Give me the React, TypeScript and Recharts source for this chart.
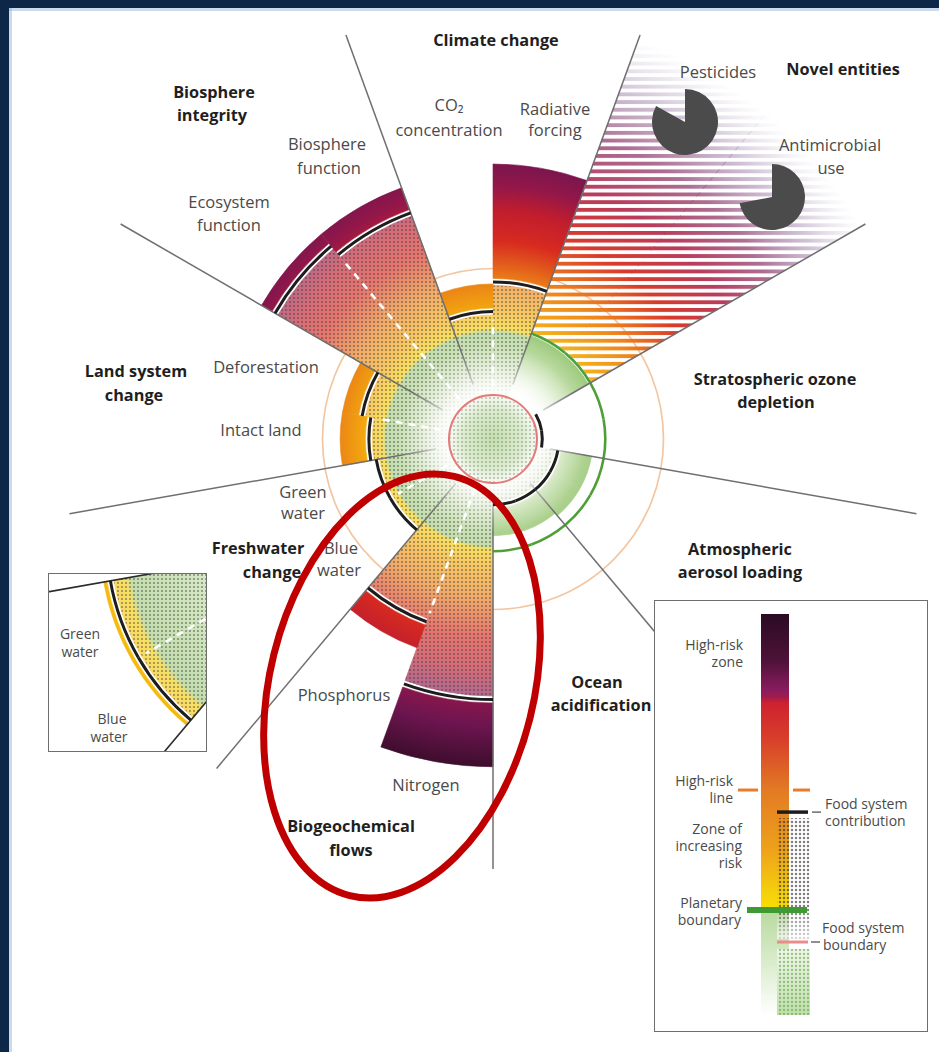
import React from 'react';
import {
  RadialBarChart, RadialBar, PolarAngleAxis, PolarRadiusAxis, PolarGrid, Sector,
  PieChart, Pie, Cell, BarChart, Bar, XAxis, YAxis, ReferenceLine,
} from 'recharts';

// 18 slices of 20deg, counter-clockwise from 350deg (east, slightly below)
const groups = [
  'Stratospheric ozone depletion', 'Stratospheric ozone depletion',
  'Novel entities', 'Novel entities',
  'Climate change', 'Climate change',
  'Biosphere integrity', 'Biosphere integrity',
  'Land system change', 'Land system change',
  'Freshwater change', 'Freshwater change',
  'Biogeochemical flows', 'Biogeochemical flows',
  'Ocean acidification', 'Ocean acidification',
  'Atmospheric aerosol loading', 'Atmospheric aerosol loading',
];
const indicators = [
  '', '', 'Antimicrobial use', 'Pesticides', 'Radiative forcing', 'CO2 concentration',
  'Biosphere function', 'Ecosystem function', 'Deforestation', 'Intact land',
  'Green water', 'Blue water', 'Phosphorus', 'Nitrogen', '', '', '', '',
];
// radial position, 1 = planetary boundary
const foodContribution = [0.43, 0.43, null, null, 1.41, 1.14, 2.17, 2.27, 1.19, 1.11, 1.06, 1.06, 1.75, 2.35, 0.58, 0.58, 0.58, 0.58];
const totalPressure = [0.45, 0.45, null, null, 2.5, 1.41, 2.43, 2.43, 1.39, 1.39, 1.1, 1.1, 2.02, 2.98, 0.88, 0.88, 0.91, 0.91];
const unquantifiedReach = 4.2; // novel entities: no control variable, open-ended

const FOOD_BOUNDARY = 0.4;
const PLANETARY_BOUNDARY = 1;
const HIGH_RISK = 1.55;
const GLOW_REACH = 0.85;

const pieLabels = ['Pesticides', 'Antimicrobial use'];
const pieShares = [0.83, 0.72];

// legend column, arbitrary units from bottom (0) to top (10)
const legendTop = 10;
const legendFoodTop = 4.91;
const legendHighRisk = 5.61;
const legendContribution = 5.06;
const legendBoundary = 2.62;
const legendFoodBoundary = 1.82;

const W = 939;
const H = 1052;
const CX = 493;
const CY = 439;
const UNIT = 110;
const R_MAX = 4.4;
const START = -10;
const FONT = "'Open Sans', 'DejaVu Sans', sans-serif";

const COLOR_SCALE: [number, string][] = [
  [0, '#e4efda'], [0.55, '#c7e0ae'], [0.97, '#a2cc83'], [1.0, '#f5cf0c'], [1.18, '#f2a70f'],
  [1.45, '#ea7e18'], [1.8, '#d72a20'], [2.08, '#c01d2e'], [2.3, '#931749'], [2.6, '#6e1550'],
  [3.0, '#3b0d2b'], [4.4, '#2a0a20'],
];

const rows = groups.map((group, i) => {
  const split = i > 0 && groups[i - 1] === group && indicators[i] !== '';
  return {
    key: `${group}:${indicators[i] || i}`,
    group,
    indicator: indicators[i],
    food: foodContribution[i],
    total: totalPressure[i],
    open: group === 'Novel entities',
    dashTo: split ? Math.min(foodContribution[i - 1] ?? 0, foodContribution[i] ?? 0) : null,
  };
});
const insetRows = rows.map((r) => (r.group === 'Freshwater change' ? r : { ...r, food: null, total: null, open: false }));

const STEP = 360 / rows.length;
// the category angle axis places each bar one band before its tick, so the axis starts one band later
const AXIS_START = START + STEP;
const dividerAngles = rows
  .map((r, i) => (i === 0 || rows[i - 1].group !== r.group ? START + i * STEP : null))
  .filter((a) => a !== null) as number[];

const mixWhite = (hex: string, t: number) => {
  const n = parseInt(hex.slice(1), 16);
  const m = (c: number) => Math.round(c + (255 - c) * t);
  return `rgb(${m((n >> 16) & 255)},${m((n >> 8) & 255)},${m(n & 255)})`;
};

const polar = (cx: number, cy: number, r: number, a: number) => ({
  x: cx + r * Math.cos((-a * Math.PI) / 180),
  y: cy + r * Math.sin((-a * Math.PI) / 180),
});

type Geo = { width: number; height: number; cx: number; cy: number; unit: number; grad: string; hatch: string };
const MAIN: Geo = { width: W, height: H, cx: CX, cy: CY, unit: UNIT, grad: 'pbMain', hatch: 'pbMainHatch' };
const INSET: Geo = { width: 159, height: 179, cx: 294, cy: -33, unit: 220, grad: 'pbInset', hatch: 'pbInsetHatch' };

// ---------- shapes ----------
const hatchShape = (grad: string) => (p: any) => {
  const { cx, cy, outerRadius, startAngle, endAngle, payload } = p;
  if (payload.food == null || outerRadius <= 2) return <g />;
  const k = outerRadius / payload.food;
  const dash = payload.dashTo != null
    ? [polar(cx, cy, 0.48 * k, startAngle), polar(cx, cy, payload.dashTo * k - 7, startAngle)]
    : null;
  const common = { cx, cy, startAngle, endAngle, innerRadius: 0, outerRadius: outerRadius - 1.5 };
  return (
    <g>
      <Sector {...common} fill={`url(#${grad})`} stroke={`url(#${grad})`} strokeWidth={0.8} />
      <Sector {...common} fill="url(#dots)" />
      {dash && (
        <line x1={dash[0].x} y1={dash[0].y} x2={dash[1].x} y2={dash[1].y}
          stroke="#fff" strokeWidth={2.6} strokeDasharray="7 6" />
      )}
    </g>
  );
};

const lineShape = (p: any) => {
  const { cx, cy, outerRadius, startAngle, endAngle, payload } = p;
  if (payload.food == null || outerRadius <= 2) return <g />;
  return (
    <Sector cx={cx} cy={cy} startAngle={startAngle} endAngle={endAngle}
      innerRadius={outerRadius + 0.5} outerRadius={outerRadius + 3.5} fill="#1d1d1d" />
  );
};

const solidShape = (grad: string) => (p: any) => {
  const { cx, cy, innerRadius, outerRadius, startAngle, endAngle, payload } = p;
  if (payload.total == null || payload.food == null) return <g />;
  const r0 = innerRadius + 5.5;
  if (outerRadius - r0 < 0.5) return <g />;
  return (
    <Sector cx={cx} cy={cy} startAngle={startAngle} endAngle={endAngle} innerRadius={r0}
      outerRadius={outerRadius} fill={`url(#${grad})`} stroke={`url(#${grad})`} strokeWidth={0.6} />
  );
};

const openShape = (p: any) => {
  const { cx, cy, outerRadius, startAngle, endAngle, payload } = p;
  if (!payload.open || outerRadius <= 2) return <g />;
  const rb = (outerRadius / unquantifiedReach) * PLANETARY_BOUNDARY;
  return (
    <g>
      <Sector cx={cx} cy={cy} startAngle={startAngle} endAngle={endAngle} innerRadius={0} outerRadius={rb}
        fill="url(#openGreen)" stroke="url(#openGreen)" strokeWidth={0.8} />
      <g mask="url(#stripeMask)">
        <Sector cx={cx} cy={cy} startAngle={startAngle} endAngle={endAngle} innerRadius={rb + 4}
          outerRadius={outerRadius} fill="url(#stripeGrad)" stroke="url(#stripeGrad)" strokeWidth={1} />
      </g>
    </g>
  );
};

const boundaryShape = (p: any) => {
  const { cx, cy, outerRadius, startAngle, endAngle } = p;
  if (outerRadius <= 2) return <g />;
  return (
    <Sector cx={cx} cy={cy} startAngle={startAngle} endAngle={endAngle}
      innerRadius={outerRadius + 1} outerRadius={outerRadius + 3.6} fill="#4f9f39" />
  );
};

const ringShape = (p: any) =>
  p.payload.key === rows[0].key ? (
    <circle cx={p.cx} cy={p.cy} r={p.outerRadius} fill="none" stroke="#f3c6a2" strokeWidth={1.7} />
  ) : <g />;

const glowShape = (p: any) =>
  p.payload.key === rows[0].key ? <circle cx={p.cx} cy={p.cy} r={p.outerRadius} fill="url(#glow)" /> : <g />;

const pinkShape = (p: any) =>
  p.payload.key === rows[0].key ? (
    <g>
      <circle cx={p.cx} cy={p.cy} r={p.outerRadius - 1} fill="url(#pinkFill)" />
      <circle cx={p.cx} cy={p.cy} r={p.outerRadius - 1} fill="url(#dots)" opacity={0.6} />
      <circle cx={p.cx} cy={p.cy} r={p.outerRadius} fill="none" stroke="#e27c78" strokeWidth={2} />
    </g>
  ) : <g />;

// ---------- polar layer ----------
function Layer({ geo, data, value, shape, inner = 0, outer, children }: any) {
  return (
    <div style={{ position: 'absolute', left: 0, top: 0, width: geo.width, height: geo.height }}>
      <RadialBarChart
        width={geo.width}
        height={geo.height}
        data={data}
        cx={geo.cx}
        cy={geo.cy}
        innerRadius={inner}
        outerRadius={outer ?? R_MAX * geo.unit}
        startAngle={AXIS_START}
        endAngle={AXIS_START + 360}
        layout="centric"
        barCategoryGap={0}
        margin={{ top: 0, right: 0, bottom: 0, left: 0 }}
      >
        <PolarAngleAxis type="category" dataKey="key" tick={false} axisLine={false} tickLine={false} />
        <PolarRadiusAxis type="number" domain={[0, R_MAX]} tick={false} axisLine={false} allowDataOverflow />
        {value && <RadialBar dataKey={value} shape={shape} isAnimationActive={false} />}
        {children}
      </RadialBarChart>
    </div>
  );
}

const foodValue = (r: any) => (r.food == null ? [0, 0] : [0, r.food]);
const excessValue = (r: any) => (r.food == null || r.total == null ? [0, 0] : [r.food, r.total]);
const openValue = (r: any) => (r.open ? [0, unquantifiedReach] : [0, 0]);
const boundaryValue = (r: any) =>
  r.open || (r.total != null && r.total < PLANETARY_BOUNDARY) ? [0, PLANETARY_BOUNDARY] : [0, 0];

// ---------- defs ----------
function Defs() {
  const stops = (t: number) =>
    COLOR_SCALE.map(([v, c], i) => <stop key={i} offset={v / R_MAX} stopColor={t ? mixWhite(c, t) : c} />);
  return (
    <svg width={0} height={0} style={{ position: 'absolute' }}>
      <defs>
        <radialGradient id="pbMain" gradientUnits="userSpaceOnUse" cx={CX} cy={CY} r={R_MAX * UNIT}>{stops(0)}</radialGradient>
        <radialGradient id="pbMainHatch" gradientUnits="userSpaceOnUse" cx={CX} cy={CY} r={R_MAX * UNIT}>{stops(0.35)}</radialGradient>
        <radialGradient id="pbInset" gradientUnits="userSpaceOnUse" cx={INSET.cx} cy={INSET.cy} r={R_MAX * INSET.unit}>{stops(0)}</radialGradient>
        <radialGradient id="pbInsetHatch" gradientUnits="userSpaceOnUse" cx={INSET.cx} cy={INSET.cy} r={R_MAX * INSET.unit}>{stops(0.35)}</radialGradient>
        <pattern id="dots" patternUnits="userSpaceOnUse" width={4} height={4}>
          <circle cx={2} cy={2} r={1.05} fill="#3a3a3a" fillOpacity={0.52} />
        </pattern>
        <pattern id="dotsLegend" patternUnits="userSpaceOnUse" width={4} height={4}>
          <circle cx={2} cy={2} r={1.25} fill="#2e2e2e" fillOpacity={0.62} />
        </pattern>
        <pattern id="dotsGreen" patternUnits="userSpaceOnUse" width={4} height={4}>
          <circle cx={2} cy={2} r={1.15} fill="#5d9f48" fillOpacity={0.6} />
        </pattern>
        <pattern id="stripes" patternUnits="userSpaceOnUse" width={20} height={7.7}>
          <rect width={20} height={3.9} fill="#fff" />
        </pattern>
        <mask id="stripeMask" maskUnits="userSpaceOnUse" x={0} y={0} width={W} height={H}>
          <rect width={W} height={H} fill="url(#stripes)" />
        </mask>
        <radialGradient id="stripeGrad" gradientUnits="userSpaceOnUse" cx={CX} cy={CY} r={R_MAX * UNIT}>
          <stop offset={0.22} stopColor="#f4b81a" />
          <stop offset={0.33} stopColor="#ee861c" />
          <stop offset={0.44} stopColor="#d83a2c" />
          <stop offset={0.55} stopColor="#b93c5c" />
          <stop offset={0.66} stopColor="#a25a84" stopOpacity={0.88} />
          <stop offset={0.77} stopColor="#ac94b8" stopOpacity={0.55} />
          <stop offset={0.88} stopColor="#c8c0d0" stopOpacity={0} />
        </radialGradient>
        <radialGradient id="openGreen" gradientUnits="userSpaceOnUse" cx={CX} cy={CY} r={UNIT}>
          <stop offset={0.42} stopColor="#ffffff" />
          <stop offset={0.75} stopColor="#c9e2b3" />
          <stop offset={1} stopColor="#9dca7d" />
        </radialGradient>
        <radialGradient id="glow">
          <stop offset={0} stopColor="#fff" stopOpacity={1} />
          <stop offset={0.47} stopColor="#fff" stopOpacity={0.95} />
          <stop offset={0.6} stopColor="#fff" stopOpacity={0.75} />
          <stop offset={0.8} stopColor="#fff" stopOpacity={0.3} />
          <stop offset={1} stopColor="#fff" stopOpacity={0} />
        </radialGradient>
        <radialGradient id="pinkFill">
          <stop offset={0} stopColor="#c4dfae" />
          <stop offset={0.7} stopColor="#dcedcf" />
          <stop offset={1} stopColor="#f6faf2" />
        </radialGradient>
        <linearGradient id="legendGrad" x1={0} y1={0} x2={0} y2={1}>
          <stop offset={0} stopColor="#2b0b24" />
          <stop offset={0.115} stopColor="#4d1238" />
          <stop offset={0.19} stopColor="#8a1c5f" />
          <stop offset={0.207} stopColor="#a01c4a" />
          <stop offset={0.222} stopColor="#cf2130" />
          <stop offset={0.314} stopColor="#d8402a" />
          <stop offset={0.439} stopColor="#e37a24" />
          <stop offset={0.589} stopColor="#eea21a" />
          <stop offset={0.7} stopColor="#f6d20c" />
          <stop offset={0.736} stopColor="#f8e000" />
          <stop offset={0.741} stopColor="#b9da9e" />
          <stop offset={0.863} stopColor="#d8ebca" />
          <stop offset={1} stopColor="#ffffff" />
        </linearGradient>
        <linearGradient id="legendGreen" x1={0} y1={0} x2={0} y2={1}>
          <stop offset={0} stopColor="#eef6e8" />
          <stop offset={1} stopColor="#bfdfaa" />
        </linearGradient>
        <linearGradient id="legendFade" x1={0} y1={0} x2={0} y2={1}>
          <stop offset={0} stopColor="#fff" stopOpacity={0} />
          <stop offset={0.75} stopColor="#fff" stopOpacity={0} />
          <stop offset={1} stopColor="#fff" stopOpacity={0.7} />
        </linearGradient>
      </defs>
    </svg>
  );
}

// ---------- pies ----------
function NovelPie({ share, cx, cy }: { share: number; cx: number; cy: number }) {
  const data = [{ name: 'share', value: share }, { name: 'rest', value: 1 - share }];
  return (
    <div style={{ position: 'absolute', left: cx - 36, top: cy - 36 }}>
      <PieChart width={72} height={72} margin={{ top: 0, right: 0, bottom: 0, left: 0 }}>
        <Pie data={data} dataKey="value" cx={36} cy={36} outerRadius={33} startAngle={90} endAngle={-270}
          stroke="none" isAnimationActive={false}>
          <Cell fill="#4b4b4b" />
          <Cell fill="transparent" />
        </Pie>
      </PieChart>
    </div>
  );
}

// ---------- legend ----------
const legendRows = [{ name: 'food system', span: [0, legendTop], food: [0, legendFoodTop] }];

const segShape = (segs: [number, number][], color: string, width: number) => (p: any) => (
  <g>
    {segs.map(([a, b], i) => (
      <line key={i} x1={a} x2={b} y1={p.y1} y2={p.y1} stroke={color} strokeWidth={width} />
    ))}
  </g>
);

const legendFoodShape = (p: any) => {
  const { x, y, width, height } = p;
  const k = height / legendFoodTop;
  const yFb = y + height - legendFoodBoundary * k;
  const low = Math.max(0, y + height - yFb - 7);
  const up = Math.max(0, yFb - 3 - y);
  return (
    <g>
      <rect x={x} y={y} width={width} height={up} fill="url(#dotsLegend)" />
      <rect x={x} y={y} width={width} height={up} fill="url(#legendFade)" />
      <rect x={x} y={yFb + 7} width={width} height={low} fill="url(#legendGreen)" />
      <rect x={x} y={yFb + 7} width={width} height={low} fill="url(#dotsGreen)" />
    </g>
  );
};

function LegendBox() {
  return (
    <div style={{ position: 'absolute', left: 654, top: 600, width: 274, height: 432, background: '#fff' }}>
      <BarChart width={274} height={432} data={legendRows} margin={{ top: 14, right: 11, bottom: 17, left: 0 }}
        barGap={-12} barCategoryGap={0}>
        <XAxis dataKey="name" hide />
        <YAxis type="number" domain={[0, legendTop]} hide />
        <Bar dataKey="span" barSize={28} fill="url(#legendGrad)" isAnimationActive={false} />
        <Bar dataKey="food" barSize={33} shape={legendFoodShape} isAnimationActive={false} />
        <ReferenceLine y={legendHighRisk} shape={segShape([[84, 104], [139, 156]], '#ea7b2c', 3)} />
        <ReferenceLine y={legendContribution} shape={(p: any) => (
          <g>
            <line x1={123} x2={154} y1={p.y1} y2={p.y1} stroke="#1d1d1d" strokeWidth={3.5} />
            <line x1={158} x2={167} y1={p.y1} y2={p.y1} stroke="#555" strokeWidth={1.3} />
          </g>
        )} />
        <ReferenceLine y={legendBoundary} shape={segShape([[93, 153]], '#3f9a33', 6)} />
        <ReferenceLine y={legendFoodBoundary} shape={(p: any) => (
          <g>
            <line x1={123} x2={154} y1={p.y1} y2={p.y1} stroke="#ec8c8a" strokeWidth={3} />
            <line x1={157} x2={166} y1={p.y1} y2={p.y1} stroke="#555" strokeWidth={1.3} />
          </g>
        )} />
      </BarChart>
      <div style={{ position: 'absolute', left: 0, top: 0, width: 274, height: 432, border: '1.5px solid #6e6e6e', boxSizing: 'border-box' }} />
    </div>
  );
}

// ---------- labels ----------
const titleLabels: [string, number, number][] = [
  ['Climate change', 496, 46], ['Novel entities', 843, 75],
  ['Biosphere', 214, 98], ['integrity', 212, 121],
  ['Land system', 136, 377], ['change', 134, 401],
  ['Stratospheric ozone', 775, 385], ['depletion', 776, 408],
  ['Freshwater', 258, 554], ['change', 272, 578],
  ['Atmospheric', 740, 555], ['aerosol loading', 740, 578],
  ['Ocean', 597, 688], ['acidification', 601, 711],
  ['Biogeochemical', 351, 832], ['flows', 351, 856],
];
const itemLabels: [string, number, number][] = [
  ['CO₂', 449, 111], ['concentration', 449, 136],
  ['Radiative', 555, 115], ['forcing', 555, 136],
  [pieLabels[0], 718, 78], ['Antimicrobial', 830, 151], ['use', 831, 174],
  ['Biosphere', 327, 150], ['function', 329, 174],
  ['Ecosystem', 229, 208], ['function', 229, 231],
  ['Deforestation', 266, 373], ['Intact land', 261, 436],
  ['Green', 303, 498], ['water', 303, 519],
  ['Blue', 341, 554], ['water', 339, 576],
  ['Phosphorus', 344, 701], ['Nitrogen', 426, 791],
];
const insetLabels: [string, number, number][] = [
  ['Green', 80, 639], ['water', 80, 657], ['Blue', 112, 724], ['water', 109, 742],
];
const legendLabels: [string, number, number, 'start' | 'end'][] = [
  ['High-risk', 743, 650, 'end'], ['zone', 743, 667, 'end'],
  ['High-risk', 733, 786, 'end'], ['line', 733, 803, 'end'],
  ['Food system', 825, 809, 'start'], ['contribution', 825, 826, 'start'],
  ['Zone of', 742, 834, 'end'], ['increasing', 742, 851, 'end'], ['risk', 742, 868, 'end'],
  ['Planetary', 742, 908, 'end'], ['boundary', 741, 925, 'end'],
  ['Food system', 822, 933, 'start'], ['boundary', 823, 950, 'start'],
];

function Overlay() {
  return (
    <svg width={W} height={H} style={{ position: 'absolute', left: 0, top: 0, pointerEvents: 'none' }}>
      {titleLabels.map(([t, x, y], i) => (
        <text key={`t${i}`} x={x} y={y} textAnchor="middle" fontFamily={FONT} fontSize={16.3} fontWeight={700} fill="#1f1f1f">{t}</text>
      ))}
      {itemLabels.map(([t, x, y], i) => (
        <text key={`i${i}`} x={x} y={y} textAnchor="middle" fontFamily={FONT} fontSize={16.5} fill="#4a4a4a">{t}</text>
      ))}
      {insetLabels.map(([t, x, y], i) => (
        <text key={`n${i}`} x={x} y={y} textAnchor="middle" fontFamily={FONT} fontSize={14} fill="#4a4a4a">{t}</text>
      ))}
      {legendLabels.map(([t, x, y, a], i) => (
        <text key={`l${i}`} x={x} y={y} textAnchor={a} fontFamily={FONT} fontSize={14} fill="#4a4a4a">{t}</text>
      ))}
      <ellipse cx={402} cy={686} rx={132} ry={216} transform="rotate(14 402 686)" fill="none" stroke="#c00000" strokeWidth={7} />
      <rect x={0} y={0} width={W} height={8} fill="#0c2747" />
      <rect x={0} y={0} width={9} height={H} fill="#0c2747" />
      <rect x={9} y={8} width={W - 9} height={3} fill="#8fb0cf" opacity={0.45} />
      <rect x={9} y={8} width={3} height={H - 8} fill="#8fb0cf" opacity={0.45} />
    </svg>
  );
}

export default function App() {
  return (
    <div style={{ position: 'absolute', left: 0, top: 0, width: W, height: H, background: '#fff', overflow: 'hidden' }}>
      <Defs />
      <Layer geo={MAIN} data={rows} value={() => [0, HIGH_RISK]} shape={ringShape} />
      <Layer geo={MAIN} data={rows} value={foodValue} shape={hatchShape(MAIN.hatch)} />
      <Layer geo={MAIN} data={rows} value={excessValue} shape={solidShape(MAIN.grad)} />
      <Layer geo={MAIN} data={rows} value={openValue} shape={openShape} />
      <Layer geo={MAIN} data={rows} value={boundaryValue} shape={boundaryShape} />
      <Layer geo={MAIN} data={rows} inner={58} outer={430}>
        <PolarGrid polarAngles={dividerAngles} polarRadius={[]} stroke="#6f6f6f" strokeWidth={1.5} />
      </Layer>
      <Layer geo={MAIN} data={rows} value={() => [0, GLOW_REACH]} shape={glowShape} />
      <Layer geo={MAIN} data={rows} value={foodValue} shape={lineShape} />
      <Layer geo={MAIN} data={rows} value={() => [0, FOOD_BOUNDARY]} shape={pinkShape} />

      <NovelPie share={pieShares[0]} cx={685} cy={122} />
      <NovelPie share={pieShares[1]} cx={772} cy={197} />

      <div style={{ position: 'absolute', left: 48, top: 573, width: INSET.width, height: INSET.height, overflow: 'hidden', background: '#fff' }}>
        <Layer geo={INSET} data={insetRows} value={foodValue} shape={hatchShape(INSET.hatch)} />
        <Layer geo={INSET} data={insetRows} value={excessValue} shape={solidShape(INSET.grad)} />
        <Layer geo={INSET} data={insetRows} inner={120} outer={600}>
          <PolarGrid polarAngles={dividerAngles} polarRadius={[]} stroke="#2a2a2a" strokeWidth={1.6} />
        </Layer>
        <Layer geo={INSET} data={insetRows} value={foodValue} shape={lineShape} />
        <div style={{ position: 'absolute', left: 0, top: 0, width: INSET.width, height: INSET.height, border: '1.5px solid #6e6e6e', boxSizing: 'border-box' }} />
      </div>

      <LegendBox />
      <Overlay />
    </div>
  );
}
